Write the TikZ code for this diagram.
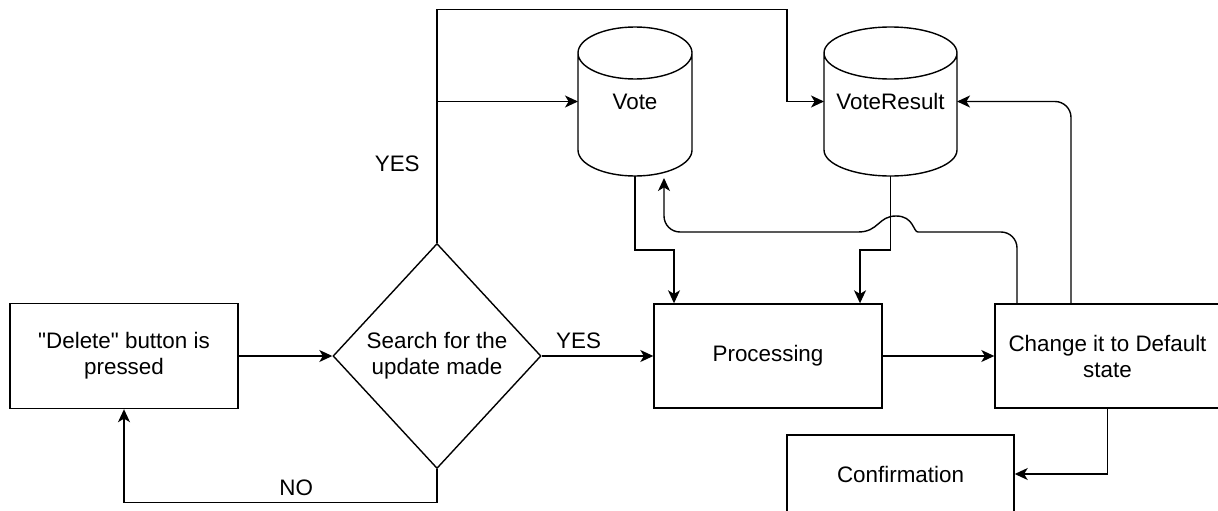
\documentclass[tikz,border=0pt]{standalone}
\usepackage{fontspec}
\setmainfont{Liberation Sans}
\usetikzlibrary{shapes.geometric,arrows.meta,calc}

\begin{document}
\begin{tikzpicture}[x=0.5pt,y=0.5pt,line width=0.7pt,
    font=\fontsize{11.2}{13}\selectfont,
    box/.style={draw,minimum width=114pt,minimum height=52pt,align=center},
    db/.style={minimum width=#1,minimum height=74.5pt,inner sep=0pt,outer sep=0pt},
    arr/.style={-{Stealth[length=6.5pt,width=6pt,inset=1.8pt]}}]
      \useasboundingbox (0,0) rectangle (1218,510) ;
      \clip (0,0) rectangle (1218,510) ;
      \node[box,minimum height=52.5pt] (del) at (124,154) {\textquotedbl Delete\textquotedbl{} button is\\pressed} ;
      \node[draw,diamond,minimum width=104pt,minimum height=112.5pt,inner sep=0pt,align=center] %
      (search) at (437,154) {Search for the\\update made} ;
      \node[box] (proc) at (768,154) {Processing} ;
      \node[box,minimum width=112.5pt] (change) at (1107.5,154) {Change it to Default\\state} ;
      \node[box,minimum width=113.5pt,minimum height=39pt] (conf) at (900.5,36) {Confirmation} ;
      \node[db=57pt] (vote) at (635,408.5) {Vote} ;
      \node[db=66.5pt] (result) at (890.5,408.5) {VoteResult} ;
      \foreach \d in {vote,result}
        \draw let \p1=(\d.north west), \p2=(\d.south east), \p3=(\d.north) in %
        (\x1,\y1-13pt) -- (\x1,\y2+13pt) arc[start angle=180,end angle=360,x radius={\x3-\x1},y radius=13pt] %
        -- (\x2,\y1-13pt) (\x3,\y1-13pt) ellipse[x radius={\x3-\x1},y radius=13pt] ;
      \draw[arr] (del.east) -- (search.west) ;
      \draw[arr] (search.east) -- node[above,pos=0.33]{YES} (proc.west) ;
      \draw[arr] (search.south) -- ++(0,-33.5) -| node[above,pos=0.225]{NO} (del.south) ;
      \draw[arr] (search.north) -- node[left=5pt,pos=0.34]{YES} ++(0,233.5) %
      -| ([xshift=-18.5pt]result.west) -- (result.west) ;
      \draw[arr] (search.north |- vote.west) -- (vote.west) ;
      \draw[arr] (vote.south) -- ++(0,-74) -| ([xshift=-47pt]proc.north) ;
      \draw[arr] (result.south) -- ++(0,-74) -| ([xshift=46pt]proc.north) ;
      \draw[arr] (proc.east) -- (change.west) ;
      \draw[arr,rounded corners=8pt] ([xshift=-18.25pt]change.north) |- (result.east) ;
      \draw[arr,rounded corners=8pt] ([xshift=-45.25pt]change.north) |- (934,278) [sharp corners] %
      .. controls (913,278) and (914,294) .. (896,294) %
      .. controls (878,294) and (879,278) .. (858,278) [rounded corners=8pt] %
      -| ([xshift=14.5pt,yshift=-1pt]vote.south) ;
      \draw[arr] (change.south) |- (conf.east) ;
    \end{tikzpicture}
\end{document}
